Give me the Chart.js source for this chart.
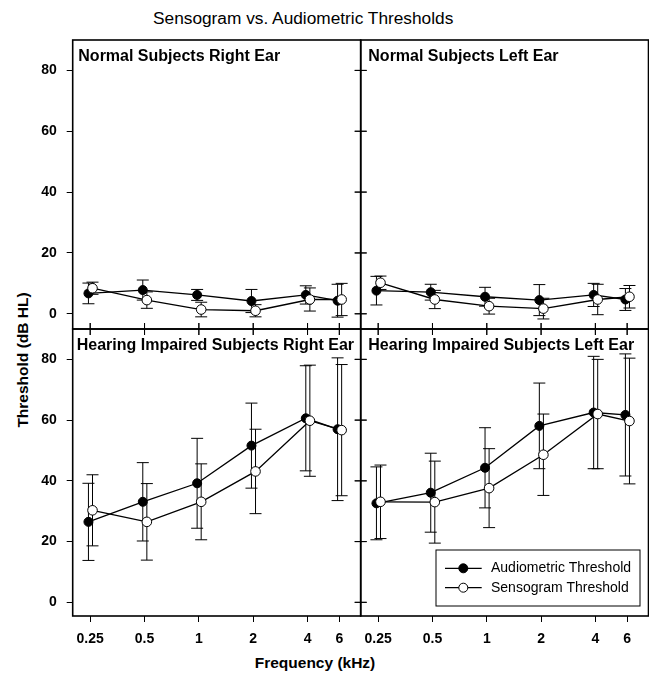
<!DOCTYPE html>
<html>
<head>
<meta charset="utf-8">
<script src="https://cdn.jsdelivr.net/npm/chart.js@4.4.1/dist/chart.umd.min.js"></script>
<style>
  html, body { margin: 0; padding: 0; background: #fff; }
  body { width: 649px; height: 677px; overflow: hidden; position: relative;
         font-family: 'Liberation Sans', Arial, sans-serif; color: #000; }
  canvas { position: absolute; }
  .t { position: absolute; white-space: nowrap; line-height: 1; color: #000; }
  .b { font-weight: bold; }
</style>
</head>
<body>
<div class="t" style="left:153px;top:10.4px;font-size:17.3px;">Sensogram vs. Audiometric Thresholds</div>
<div class="t b" style="left:22.5px;top:360px;font-size:15.5px;transform:translate(-50%,-50%) rotate(-90deg);">Threshold (dB HL)</div>
<div class="t b" style="left:315px;top:655px;font-size:15.5px;transform:translateX(-50%);">Frequency (kHz)</div>

<canvas id="ul" width="386" height="339" style="left:0px;top:15px;width:386px;height:339px;"></canvas>
<canvas id="ur" width="314" height="339" style="left:335px;top:15px;width:314px;height:339px;"></canvas>
<canvas id="ll" width="386" height="373" style="left:0px;top:304px;width:386px;height:373px;"></canvas>
<canvas id="lr" width="314" height="373" style="left:335px;top:304px;width:314px;height:373px;"></canvas>

<div class="t b" style="left:78.3px;top:48.2px;font-size:16px;">Normal Subjects Right Ear</div>
<div class="t b" style="left:368.3px;top:48.2px;font-size:16px;">Normal Subjects Left Ear</div>
<div class="t b" style="left:76.7px;top:337.2px;font-size:16px;">Hearing Impaired Subjects Right Ear</div>
<div class="t b" style="left:368.3px;top:337.2px;font-size:16px;">Hearing Impaired Subjects Left Ear</div>

<script>
// ---------------- data ----------------
const freqs  = [0.25, 0.5, 1, 2, 4, 6];          // kHz
const xTicks = [0.25, 0.5, 1, 2, 4, 6];
const yTicks = [0, 20, 40, 60, 80];

// Normal subjects, right ear
const nrAudio   = [6.7, 7.8, 6.2, 4.2, 6.2, 4.3];
const nrAudioSD = [3.4, 3.3, 1.8, 3.8, 3.0, 5.4];
const nrSens    = [8.4, 4.5, 1.4, 1.0, 4.7, 4.7];
const nrSensSD  = [2.0, 2.7, 2.4, 2.0, 3.8, 5.3];

// Normal subjects, left ear
const nlAudio   = [7.6, 7.1, 5.6, 4.5, 6.2, 4.7];
const nlAudioSD = [4.7, 2.6, 3.1, 5.1, 3.8, 3.6];
const nlSens    = [10.2, 4.7, 2.5, 1.7, 4.7, 5.6];
const nlSensSD  = [2.2, 3.0, 2.6, 3.4, 5.0, 3.7];

// Hearing impaired subjects, right ear
const hrAudio   = [26.5, 33.1, 39.2, 51.6, 60.6, 57.0];
const hrAudioSD = [12.7, 12.9, 14.8, 14.0, 17.3, 23.5];
const hrSens    = [30.3, 26.5, 33.1, 43.1, 59.8, 56.7];
const hrSensSD  = [11.7, 12.6, 12.5, 13.9, 18.3, 21.6];

// Hearing impaired subjects, left ear
const hlAudio   = [32.6, 36.1, 44.3, 58.1, 62.5, 61.7];
const hlAudioSD = [12.0, 13.0, 13.2, 14.1, 18.5, 20.1];
const hlSens    = [33.1, 33.0, 37.6, 48.6, 62.0, 59.7];
const hlSensSD  = [12.1, 13.5, 13.0, 13.4, 18.0, 20.7];

const seriesNames = ['Audiometric Threshold', 'Sensogram Threshold'];

// ---------------- styling ----------------
const FONT = "'Liberation Sans', Arial, sans-serif";
const AUDIO_SHIFT = 0.978;   // slight horizontal offset between the two series
const SENS_SHIFT  = 1.03;
const TICK = 6;

const errorBars = {
  id: 'errorBars',
  beforeDatasetsDraw(chart) {
    const ctx = chart.ctx, xs = chart.scales.x, ys = chart.scales.y;
    ctx.save();
    ctx.strokeStyle = '#000';
    ctx.lineWidth = 1;
    chart.data.datasets.forEach(ds => {
      ds.data.forEach((p, i) => {
        const e = ds.errors[i];
        const px = xs.getPixelForValue(p.x);
        const y1 = ys.getPixelForValue(p.y + e);
        const y2 = ys.getPixelForValue(p.y - e);
        ctx.beginPath();
        ctx.moveTo(px, y1); ctx.lineTo(px, y2);
        ctx.moveTo(px - 6, y1); ctx.lineTo(px + 6, y1);
        ctx.moveTo(px - 6, y2); ctx.lineTo(px + 6, y2);
        ctx.stroke();
      });
    });
    ctx.restore();
  }
};

const frame = {
  id: 'frame',
  afterDraw(chart, args, o) {
    const ctx = chart.ctx, a = chart.chartArea, xs = chart.scales.x, ys = chart.scales.y;
    ctx.save();
    ctx.strokeStyle = '#000';
    ctx.lineWidth = 1.6;
    ctx.strokeRect(a.left, a.top, a.right - a.left, a.bottom - a.top);
    ctx.lineWidth = 1;
    ctx.beginPath();
    if (o.leftBoth || o.rightBoth) {
      yTicks.forEach(v => {
        const py = ys.getPixelForValue(v);
        if (o.leftBoth) { ctx.moveTo(a.left - TICK, py); ctx.lineTo(a.left + TICK, py); }
        if (o.rightBoth) { ctx.moveTo(a.right - TICK, py); ctx.lineTo(a.right + TICK, py); }
      });
    }
    if (o.topBoth || o.bottomBoth) {
      xTicks.forEach(v => {
        const px = xs.getPixelForValue(v);
        if (o.topBoth) { ctx.moveTo(px, a.top - TICK); ctx.lineTo(px, a.top + TICK); }
        if (o.bottomBoth) { ctx.moveTo(px, a.bottom - TICK); ctx.lineTo(px, a.bottom + TICK); }
      });
    }
    ctx.stroke();
    ctx.restore();
  }
};

const legendBox = {
  id: 'legendBox',
  afterDraw(chart, args, o) {
    if (!o.show) return;
    const ctx = chart.ctx, a = chart.chartArea;
    const bx = a.right - 212.5, by = a.bottom - 66, bw = 204, bh = 56;
    ctx.save();
    ctx.fillStyle = '#fff';
    ctx.fillRect(bx, by, bw, bh);
    ctx.strokeStyle = '#000';
    ctx.lineWidth = 1;
    ctx.strokeRect(bx, by, bw, bh);
    const rows = [by + 18.3, by + 37.7];
    const fills = ['#000', '#fff'];
    rows.forEach((ry, i) => {
      ctx.beginPath();
      ctx.lineWidth = 1.3;
      ctx.moveTo(bx + 9, ry); ctx.lineTo(bx + 45.7, ry);
      ctx.stroke();
      ctx.beginPath();
      ctx.lineWidth = 1;
      ctx.arc(bx + 27.3, ry, 4.5, 0, Math.PI * 2);
      ctx.fillStyle = fills[i];
      ctx.fill();
      ctx.stroke();
      ctx.fillStyle = '#000';
      ctx.font = '14px ' + FONT;
      ctx.textBaseline = 'middle';
      ctx.textAlign = 'left';
      ctx.fillText(seriesNames[i], bx + 55, ry);
    });
    ctx.restore();
  }
};

function makeDatasets(audio, audioSD, sens, sensSD) {
  return [
    {
      label: seriesNames[0],
      data: freqs.map((f, i) => ({ x: f * AUDIO_SHIFT, y: audio[i] })),
      errors: audioSD,
      borderColor: '#000', backgroundColor: '#000',
      pointBackgroundColor: '#000', pointBorderColor: '#000',
      pointRadius: 4.5, pointBorderWidth: 1, borderWidth: 1.3,
      order: 1
    },
    {
      label: seriesNames[1],
      data: freqs.map((f, i) => ({ x: f * SENS_SHIFT, y: sens[i] })),
      errors: sensSD,
      borderColor: '#000', backgroundColor: '#fff',
      pointBackgroundColor: '#fff', pointBorderColor: '#000',
      pointRadius: 4.8, pointBorderWidth: 1, borderWidth: 1.3,
      order: 0
    }
  ];
}

function makeChart(id, datasets, cfg) {
  return new Chart(document.getElementById(id), {
    type: 'line',
    data: { datasets },
    options: {
      responsive: false,
      animation: false,
      devicePixelRatio: 1,
      layout: { padding: cfg.padding, autoPadding: false },
      scales: {
        x: {
          type: 'logarithmic', min: 0.2, max: 7.88,
          display: cfg.showX,
          afterBuildTicks: s => { s.ticks = xTicks.map(v => ({ value: v })); },
          afterFit: s => { s.height = cfg.showX ? cfg.xHeight : 0; },
          grid: { display: true, drawOnChartArea: false, drawTicks: true, tickLength: TICK, color: '#000', lineWidth: 1 },
          border: { display: false },
          ticks: {
            padding: 9, color: '#000', maxRotation: 0, autoSkip: false,
            font: { family: FONT, size: 14, weight: 'bold' },
            callback: v => String(v)
          }
        },
        y: {
          type: 'linear', min: cfg.yMin, max: 90,
          display: cfg.showY,
          afterBuildTicks: s => { s.ticks = yTicks.map(v => ({ value: v })); },
          afterFit: s => { s.width = cfg.showY ? 72.7 : 0; },
          grid: { display: true, drawOnChartArea: false, drawTicks: true, tickLength: TICK, color: '#000', lineWidth: 1 },
          border: { display: false },
          ticks: {
            padding: 10, color: '#000',
            font: { family: FONT, size: 14, weight: 'bold' }
          }
        }
      },
      plugins: {
        legend: { display: false },
        tooltip: { enabled: false },
        frame: cfg.frame,
        legendBox: { show: !!cfg.legend }
      }
    },
    plugins: [errorBars, frame, legendBox]
  });
}

makeChart('ul', makeDatasets(nrAudio, nrAudioSD, nrSens, nrSensSD), {
  padding: { left: 0, top: 25, right: 25.3, bottom: 25 },
  showX: false, showY: true, yMin: -5,
  frame: { rightBoth: true, bottomBoth: true }
});
makeChart('ur', makeDatasets(nlAudio, nlAudioSD, nlSens, nlSensSD), {
  padding: { left: 25.7, top: 25, right: 0.5, bottom: 25 },
  showX: false, showY: false, yMin: -5,
  frame: { leftBoth: true, bottomBoth: true }
});
makeChart('ll', makeDatasets(hrAudio, hrAudioSD, hrSens, hrSensSD), {
  padding: { left: 0, top: 25, right: 25.3, bottom: 0 },
  showX: true, showY: true, yMin: -4.5, xHeight: 61,
  frame: { rightBoth: true, topBoth: true }
});
makeChart('lr', makeDatasets(hlAudio, hlAudioSD, hlSens, hlSensSD), {
  padding: { left: 25.7, top: 25, right: 0.5, bottom: 0 },
  showX: true, showY: false, yMin: -4.5, xHeight: 61,
  frame: { leftBoth: true, topBoth: true },
  legend: true
});
</script>
</body>
</html>
